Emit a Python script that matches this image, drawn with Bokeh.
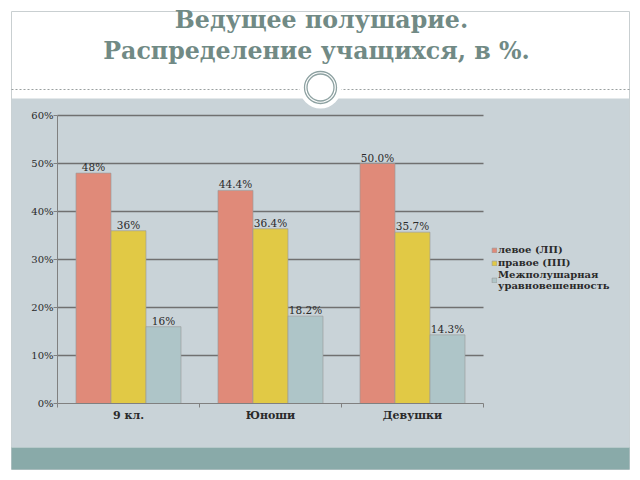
from bokeh.plotting import figure
from bokeh.models import Range1d, LinearAxis, FixedTicker, ColumnDataSource
from bokeh.core.properties import value
from bokeh.embed import file_html
from bokeh.resources import INLINE

# ---------------- data ----------------
categories = ["9 кл.", "Юноши", "Девушки"]
series_names = ["левое (ЛП)", "правое (ПП)", "Межполушарная\nуравновешенность"]
left_vals = [48.0, 44.4, 50.0]
right_vals = [36.0, 36.4, 35.7]
balance_vals = [16.0, 18.2, 14.3]
left_labels = ["48%", "44.4%", "50.0%"]
right_labels = ["36%", "36.4%", "35.7%"]
balance_labels = ["16%", "18.2%", "14.3%"]
y_ticks = [0, 10, 20, 30, 40, 50, 60]
y_tick_labels = ["0%", "10%", "20%", "30%", "40%", "50%", "60%"]
title_lines = ["Ведущее полушарие.", "Распределение учащихся, в %."]

# ---------------- styles ----------------
colors = ["#e08a79", "#e1c945", "#aec5c8"]
FONT = "DejaVu Serif"
SERIF = value(FONT)
BAR_W = 0.2465

# frame covers the whole canvas; chart area 57..482 x 115..403 px
p = figure(width=640, height=480, output_backend="svg", toolbar_location=None,
           x_axis_location=None, y_axis_location=None,
           x_range=Range1d(-57 / 142, 583 / 142),
           y_range=Range1d(-77 / 4.8, 403 / 4.8),
           min_border=0, outline_line_color=None,
           background_fill_color="white", border_fill_color="white")
p.grid.visible = False
p.extra_x_ranges = {"px": Range1d(0, 640)}
p.extra_y_ranges = {"px": Range1d(480, 0)}
PX = dict(x_range_name="px", y_range_name="px")

# slide decorations (pixel space)
p.quad(left=[11], right=[629], top=[11], bottom=[469], fill_color="white",
       line_color="#c9cfd1", line_width=1, **PX)
p.quad(left=[11], right=[629], top=[98], bottom=[447], fill_color="#c9d3d8",
       line_color=None, **PX)
p.quad(left=[11], right=[629], top=[447], bottom=[469], fill_color="#89aaa9",
       line_color=None, **PX)
p.segment(x0=[11], x1=[629], y0=[89], y1=[89], line_color="#9aa0a0",
          line_width=1, line_dash="2 2", **PX)
p.scatter(x=[320], y=[87], size=42, marker="circle", fill_color="white",
          line_color=None, **PX)
p.scatter(x=[320], y=[87], size=32, marker="circle", fill_color=None,
          line_color="#8ea2a2", line_width=1.3, **PX)
p.scatter(x=[320], y=[87], size=27, marker="circle", fill_color=None,
          line_color="#8ea2a2", line_width=1.3, **PX)
p.text(x=[321, 316], y=[28, 59], text=title_lines, text_align="center",
       text_baseline="alphabetic", y_offset=-9, text_font=SERIF,
       text_font_style="bold", text_font_size="23.7px", text_color="#718a85",
       **PX)

# horizontal gridlines (behind bars)
grid_ticks = [t for t in y_ticks if t > 0]
p.segment(x0=[0] * len(grid_ticks), x1=[len(categories)] * len(grid_ticks),
          y0=grid_ticks, y1=grid_ticks, line_color="#707070", line_width=1.5)

# bars
series = [left_vals, right_vals, balance_vals]
labels = [left_labels, right_labels, balance_labels]
for k, (vals, labs) in enumerate(zip(series, labels)):
    xs = [i + 0.5 + (k - 1) * BAR_W for i in range(len(categories))]
    src = ColumnDataSource(dict(x=xs, top=vals, lab=labs))
    p.vbar(x="x", top="top", bottom=0, width=BAR_W, source=src,
           fill_color=colors[k], line_color="#9b9b9b", line_width=0.8,
           line_alpha=0.8, legend_label=series_names[k])
    p.text(x="x", y="top", text="lab", source=src, text_align="center",
           text_baseline="alphabetic", y_offset=-6, text_font=SERIF,
           text_font_size="10.5px", text_color="#2a2a2a")

# axes
yax = LinearAxis(fixed_location=0, bounds=(0, 60),
                 ticker=FixedTicker(ticks=y_ticks),
                 major_label_overrides={t: l for t, l in zip(y_ticks, y_tick_labels)})
yax.axis_line_color = "#808080"
yax.major_tick_line_color = "#808080"
yax.major_tick_out = 4
yax.major_tick_in = 0
yax.minor_tick_line_color = None
yax.major_label_standoff = 0
yax.major_label_text_font = FONT
yax.major_label_text_font_size = "10px"
yax.major_label_text_color = "#2a2a2a"
p.add_layout(yax, "left")

xax = LinearAxis(fixed_location=0, bounds=(0, len(categories)),
                 ticker=FixedTicker(ticks=list(range(len(categories) + 1))))
xax.axis_line_color = "#808080"
xax.major_tick_line_color = "#808080"
xax.major_tick_out = 4
xax.major_tick_in = 0
xax.minor_tick_line_color = None
xax.major_label_text_font_size = "0px"
xax.major_label_text_alpha = 0
p.add_layout(xax, "below")

cax = LinearAxis(fixed_location=0,
                 ticker=FixedTicker(ticks=[i + 0.5 for i in range(len(categories))]),
                 major_label_overrides={i + 0.5: c for i, c in enumerate(categories)})
cax.axis_line_color = None
cax.major_tick_line_color = None
cax.major_tick_out = 0
cax.major_tick_in = 0
cax.minor_tick_line_color = None
cax.major_label_standoff = 5
cax.major_label_text_font = FONT
cax.major_label_text_font_style = "bold"
cax.major_label_text_font_size = "11px"
cax.major_label_text_color = "#2a2a2a"
p.add_layout(cax, "below")

# legend
lg = p.legend[0]
lg.location = (491, 189)
lg.glyph_width = 6
lg.glyph_height = 6
lg.label_standoff = 1
lg.spacing = 0
lg.padding = 0
lg.margin = 0
lg.label_height = 13
lg.border_line_color = None
lg.background_fill_alpha = 0
lg.label_text_font = FONT
lg.label_text_font_style = "bold"
lg.label_text_font_size = "10px"
lg.label_text_color = "#2a2a2a"
lg.label_text_line_height = 1.2

open("out.html", "w").write(file_html(p, INLINE))
